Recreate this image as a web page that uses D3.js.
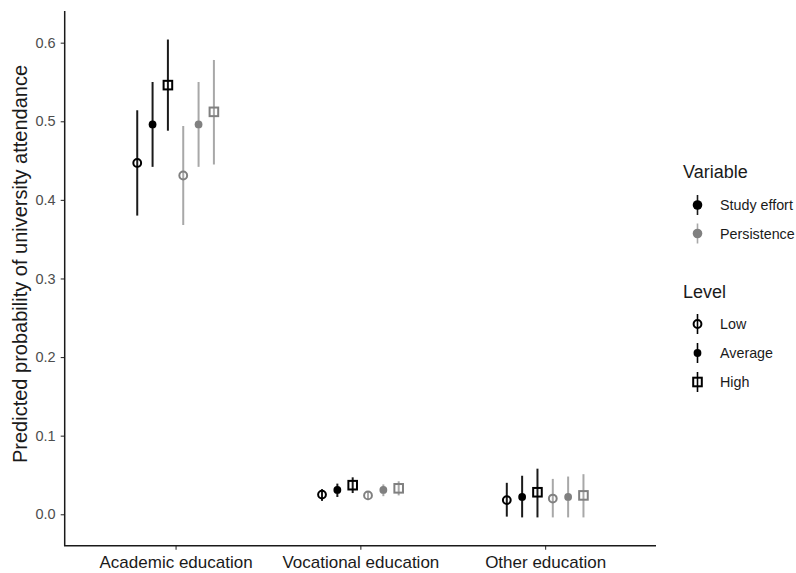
<!DOCTYPE html>
<html>
<head>
<meta charset="utf-8">
<script src="https://cdn.jsdelivr.net/npm/d3@7"></script>
<style>
  html, body { margin: 0; padding: 0; background: #fff; }
  svg { display: block; font-family: "Liberation Sans", Arial, sans-serif; }
</style>
</head>
<body>
<svg id="chart" width="796" height="573"></svg>
<script>
// Education tracks on the x axis
const categories = ["Academic education", "Vocational education", "Other education"];
// Predictor variables and their levels
const variables = ["Study effort", "Persistence"];
const levels = ["Low", "Average", "High"];

// Predicted probabilities per track, ordered Low / Average / High
const studyEst   = [[0.447, 0.496, 0.546], [0.025, 0.031, 0.037], [0.018, 0.022, 0.028]];
const studyLow   = [[0.380, 0.442, 0.488], [0.017, 0.022, 0.027], [-0.003, -0.004, -0.004]];
const studyHigh  = [[0.514, 0.550, 0.604], [0.032, 0.039, 0.047], [0.040, 0.049, 0.058]];
const persistEst  = [[0.431, 0.496, 0.512], [0.024, 0.031, 0.033], [0.020, 0.022, 0.024]];
const persistLow  = [[0.368, 0.442, 0.445], [0.018, 0.023, 0.024], [-0.004, -0.004, -0.004]];
const persistHigh = [[0.494, 0.550, 0.578], [0.029, 0.038, 0.042], [0.045, 0.048, 0.051]];

const yTicks = [0.0, 0.1, 0.2, 0.3, 0.4, 0.5, 0.6];

// Long-format rows built from the arrays above
const rows = [];
categories.forEach((cat, ci) => {
  levels.forEach((lev, li) => {
    rows.push({cat, variable: "Study effort", level: lev,
      est: studyEst[ci][li], lo: studyLow[ci][li], hi: studyHigh[ci][li]});
  });
  levels.forEach((lev, li) => {
    rows.push({cat, variable: "Persistence", level: lev,
      est: persistEst[ci][li], lo: persistLow[ci][li], hi: persistHigh[ci][li]});
  });
});

const svg = d3.select("#chart");
const plotLeft = 64.7, plotRight = 656, plotTop = 11, plotBottom = 545.7;

const x = d3.scalePoint().domain(categories).range([plotLeft, plotRight]).padding(0.6);
const groupKeys = [];
variables.forEach(v => levels.forEach(l => groupKeys.push(v + "|" + l)));
const dodge = d3.scaleBand().domain(groupKeys).range([-46, 46]);
const y = d3.scaleLinear().domain([-0.040, 0.6403]).range([plotBottom, plotTop]);

const pointColor = d3.scaleOrdinal().domain(variables).range(["#000000", "#808080"]);
const lineColor  = d3.scaleOrdinal().domain(variables).range(["#1a1a1a", "#a8a8a8"]);

// Axes
const yAxis = d3.axisLeft(y).tickValues(yTicks).tickFormat(d3.format(".1f")).tickSize(4).tickPadding(5);
const xAxis = d3.axisBottom(x).tickSize(4).tickPadding(6);

const gy = svg.append("g").attr("transform", `translate(${plotLeft},0)`).call(yAxis);
gy.select(".domain").remove();
gy.selectAll(".tick line").attr("stroke", "#333").attr("stroke-width", 1.1);
gy.selectAll(".tick text").attr("fill", "#4d4d4d").style("font-size", "14.5px")
  .style("font-family", "'Liberation Sans', Arial, sans-serif");

const gx = svg.append("g").attr("transform", `translate(0,${plotBottom})`).call(xAxis);
gx.select(".domain").remove();
gx.selectAll(".tick line").attr("stroke", "#333").attr("stroke-width", 1.1);
gx.selectAll(".tick text").attr("fill", "#1a1a1a").style("font-size", "17px")
  .style("font-family", "'Liberation Sans', Arial, sans-serif");

svg.append("path")
  .attr("d", `M${plotLeft},${plotTop}V${plotBottom}H${plotRight}`)
  .attr("fill", "none").attr("stroke", "#1a1a1a").attr("stroke-width", 1.5);

// Y axis title
svg.append("text")
  .attr("transform", `translate(27,264) rotate(-90)`)
  .attr("text-anchor", "middle")
  .style("font-size", "20px").attr("fill", "#1a1a1a")
  .text("Predicted probability of university attendance");

// Shape drawing for a level
function drawShape(g, level, color, cx, cy) {
  if (level === "Low") {
    g.append("circle").attr("cx", cx).attr("cy", cy).attr("r", 3.9)
      .attr("fill", "none").attr("stroke", color).attr("stroke-width", 2);
  } else if (level === "Average") {
    g.append("circle").attr("cx", cx).attr("cy", cy).attr("r", 3.9).attr("fill", color);
  } else {
    g.append("rect").attr("x", cx - 4.3).attr("y", cy - 4.3).attr("width", 8.6).attr("height", 8.6)
      .attr("fill", "none").attr("stroke", color).attr("stroke-width", 2);
  }
}

// Error bars and point estimates
const marks = svg.append("g");
rows.forEach(r => {
  const cx = x(r.cat) + dodge(r.variable + "|" + r.level) + dodge.bandwidth() / 2;
  const g = marks.append("g");
  g.append("line").attr("x1", cx).attr("x2", cx).attr("y1", y(r.lo)).attr("y2", y(r.hi))
    .attr("stroke", lineColor(r.variable)).attr("stroke-width", 2);
  drawShape(g, r.level, pointColor(r.variable), cx, y(r.est));
});

// Legends
const legendX = 697.5;
const lg = svg.append("g");
lg.append("text").attr("x", 683).attr("y", 178).style("font-size", "18px").attr("fill", "#1a1a1a").text("Variable");
variables.forEach((v, i) => {
  const cy = 205 + i * 28.5;
  lg.append("line").attr("x1", legendX).attr("x2", legendX).attr("y1", cy - 10).attr("y2", cy + 10)
    .attr("stroke", lineColor(v)).attr("stroke-width", 1.6);
  lg.append("circle").attr("cx", legendX).attr("cy", cy).attr("r", 4.8).attr("fill", pointColor(v));
  lg.append("text").attr("x", 720).attr("y", cy + 5).style("font-size", "14.3px").attr("fill", "#1a1a1a").text(v);
});

lg.append("text").attr("x", 683).attr("y", 298).style("font-size", "18px").attr("fill", "#1a1a1a").text("Level");
levels.forEach((l, i) => {
  const cy = 324 + i * 29;
  const g = lg.append("g");
  g.append("line").attr("x1", legendX).attr("x2", legendX).attr("y1", cy - 10).attr("y2", cy + 10)
    .attr("stroke", "#000").attr("stroke-width", 1.6);
  drawShape(g, l, "#000", legendX, cy);
  lg.append("text").attr("x", 720).attr("y", cy + 5).style("font-size", "14.3px").attr("fill", "#1a1a1a").text(l);
});
</script>
</body>
</html>
